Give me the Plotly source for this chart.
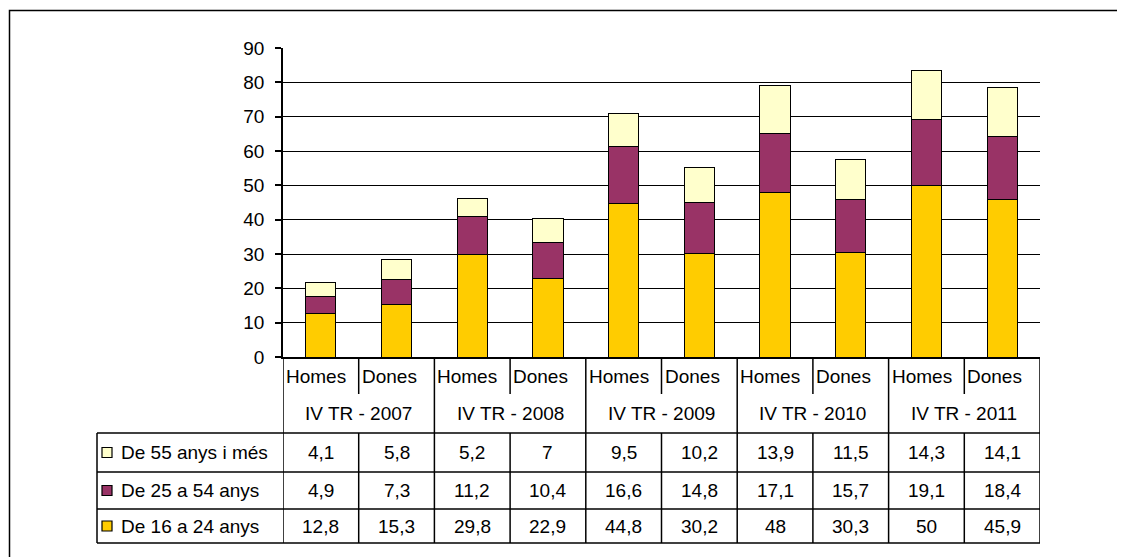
import plotly.graph_objects as go

periodes = ["IV TR - 2007", "IV TR - 2008", "IV TR - 2009", "IV TR - 2010", "IV TR - 2011"]
sexes = ["Homes", "Dones"]
edat_16_24 = [12.8, 15.3, 29.8, 22.9, 44.8, 30.2, 48, 30.3, 50, 45.9]
edat_25_54 = [4.9, 7.3, 11.2, 10.4, 16.6, 14.8, 17.1, 15.7, 19.1, 18.4]
edat_55 = [4.1, 5.8, 5.2, 7, 9.5, 10.2, 13.9, 11.5, 14.3, 14.1]
y_ticks = [0, 10, 20, 30, 40, 50, 60, 70, 80, 90]

# stacking order (bottom first)
series = [
    ("De 16 a 24 anys", edat_16_24, "#FFCC00"),
    ("De 25 a 54 anys", edat_25_54, "#993366"),
    ("De 55 anys i més", edat_55, "#FFFFCC"),
]

# page has an 8px body margin, so the figure is drawn 8px in from the window edge
OFF = 8
W, H = 1125 - OFF, 557 - OFF
L, R, T, B = 283 - OFF, 85, 48 - OFF, 200
FONT = "Liberation Sans, Arial, sans-serif"


def xp(px):
    # window pixel -> paper x
    return (px - OFF - L) / (W - L - R)


def yp(py):
    # window pixel -> paper y
    return (H - B - (py - OFF)) / (H - T - B)


def fmt(v):
    return f"{v:g}".replace(".", ",")


n = len(edat_16_24)
xs = list(range(n))

fig = go.Figure()
for name, vals, col in series:
    fig.add_trace(go.Bar(x=xs, y=vals, name=name, width=0.4,
                         marker=dict(color=col, line=dict(color="black", width=1))))

shapes = []
ann = []
line = dict(color="black", width=1.5)

# outer frame
shapes.append(dict(type="rect", xref="paper", yref="paper", x0=xp(9.5), x1=xp(1122), y0=yp(640), y1=yp(10.5),
                   line=dict(color="black", width=1.5), layer="below"))

# table geometry (window pixels)
y_hdr1, y_hdr2 = 394, 433
row_edges = [433, 472, 509, 543]
x_tab_left = 97

# vertical dividers
for k in range(n + 1):
    xb = k - 0.5
    if k % 2 == 0:
        shapes.append(dict(type="line", xref="x", yref="paper", x0=xb, x1=xb, y0=yp(357), y1=yp(row_edges[-1]), line=line))
    else:
        shapes.append(dict(type="line", xref="x", yref="paper", x0=xb, x1=xb, y0=yp(357), y1=yp(y_hdr1), line=line))
        shapes.append(dict(type="line", xref="x", yref="paper", x0=xb, x1=xb, y0=yp(y_hdr2), y1=yp(row_edges[-1]), line=line))

# horizontal rows
for ye in row_edges:
    shapes.append(dict(type="line", xref="paper", yref="paper", x0=xp(x_tab_left), x1=1, y0=yp(ye), y1=yp(ye), line=line))
shapes.append(dict(type="line", xref="paper", yref="paper", x0=xp(x_tab_left), x1=xp(x_tab_left),
                   y0=yp(row_edges[0]), y1=yp(row_edges[-1]), line=line))

txt = dict(family=FONT, size=19, color="black")

# header: sexes and periods
for k in range(n):
    ann.append(dict(x=k - 0.5, y=yp(376), xref="x", yref="paper", text=sexes[k % 2], showarrow=False,
                    xanchor="left", yanchor="middle", xshift=1, font=txt))
for g, p in enumerate(periodes):
    ann.append(dict(x=2 * g + 0.5, y=yp(413), xref="x", yref="paper", text=p, showarrow=False,
                    xanchor="center", yanchor="middle", font=txt))

# data rows (top to bottom: last series first)
for r, (name, vals, col) in enumerate(reversed(series)):
    yc = (row_edges[r] + row_edges[r + 1]) / 2
    shapes.append(dict(type="rect", xref="paper", yref="paper", x0=xp(102), x1=xp(112), y0=yp(yc + 5), y1=yp(yc - 5),
                       fillcolor=col, line=dict(color="black", width=1.2)))
    ann.append(dict(x=xp(119), y=yp(yc), xref="paper", yref="paper", text=name, showarrow=False,
                    xanchor="left", yanchor="middle", font=txt))
    for k, v in enumerate(vals):
        ann.append(dict(x=k, y=yp(yc), xref="x", yref="paper", text=fmt(v), showarrow=False,
                        xanchor="center", yanchor="middle", font=txt))

fig.update_layout(
    width=W, height=H,
    margin=dict(l=L, r=R, t=T, b=B, pad=0),
    barmode="stack",
    showlegend=False,
    plot_bgcolor="white",
    paper_bgcolor="white",
    font=txt,
    shapes=shapes,
    annotations=ann,
    xaxis=dict(range=[-0.5, n - 0.5], showticklabels=False, ticks="", showgrid=False, zeroline=False,
               showline=True, linecolor="black", linewidth=1.5),
    yaxis=dict(range=[0, 90], tickvals=y_ticks, ticks="outside", ticklen=6, tickcolor="black", tickwidth=1.5,
               ticklabelstandoff=7, showgrid=True, gridcolor="black", gridwidth=1.2, zeroline=False,
               showline=True, linecolor="black", linewidth=1.5, tickfont=txt),
)

fig.write_html("out.html")
